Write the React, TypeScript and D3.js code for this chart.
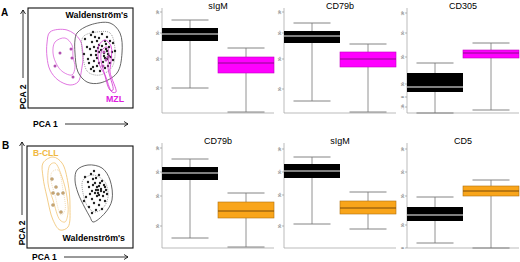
import React from "react";
import * as d3 from "d3";

// ---------- Box plot data: [lowWhisker, q1, median, q3, highWhisker] (axis units 0..105) ----------
const topMarkers = ["sIgM", "CD79b", "CD305"];
const topWM = [
  [25, 72, 79, 85, 93],
  [12, 70, 77, 82, 90],
  [0, 21, 26, 40, 50],
];
const topMZL = [
  [1, 40, 50, 56, 65],
  [1, 46, 54, 61, 69],
  [3, 55, 60, 63, 70],
];
const topTicks = [
  [101, 80, 54, 25],
  [101, 80, 54, 24],
  [100, 80, 56, 29, 16, 6],
];
const bottomMarkers = ["CD79b", "sIgM", "CD5"];
const botWM = [
  [10, 68, 75, 81, 89],
  [24, 70, 77, 84, 91],
  [5, 27, 33, 41, 51],
];
const botCLL = [
  [1, 30, 37, 46, 55],
  [19, 34, 40, 47, 56],
  [0, 52, 57, 62, 68],
];
const botTicks = [
  [100, 76, 52, 22],
  [99, 76, 53, 22],
  [99, 76, 52, 23, 0],
];
const tickLabels4 = ["10⁴", "10³", "10²", "10¹"];
const tickLabels5 = ["10⁴", "10³", "10²", "10¹", "0"];
const tickLabels6 = ["10⁴", "10³", "10²", "10¹", "0", "-10¹"];
const groups = ["WM", "other"];

// ---------- PCA panel A (units) ----------
const aGrayOuter: [number, number][] = [[49,75],[62,83],[82,85],[92,75],[94,55],[89,35],[72,25],[59,26],[50,36],[47,55],[47,68]];
const aGrayInner: [number, number][] = [[55,71],[69,76],[82,75],[87,58],[84,41],[72,33],[60,36],[55,51]];
const aPinkOuter: [number, number][] = [[22,76],[39,78],[52,68],[55,51],[54,41],[50,26],[42,23],[30,28],[22,38],[19,51],[19,65]];
const aPinkInner: [number, number][] = [[27,66],[37,70],[44,63],[45,51],[47,41],[44,33],[35,36],[29,43],[25,55]];
const aPinkTailOuter: [number, number][] = [[71,63],[77,68],[83,62],[83,46],[82,36],[88,16],[84,16],[77,33],[72,42],[70,53]];
const aPinkTailInner: [number, number][] = [[74,58],[79,61],[81,53],[80,40],[85,18],[82,18],[76,36],[73,48]];
const aPinkPoints: [number, number][] = [[32,55],[43,59],[44,50],[27,42],[45,31],[76,56],[78,48],[80,51],[75,42]];
const aBlackPoints: [number, number][] = [
  [57,69],[63,73],[65,76],[71,70],[74,74],[79,71],[85,65],[59,61],[64,66],[69,67],[71,63],[77,67],[81,61],[87,57],
  [56,54],[62,59],[66,61],[68,57],[74,62],[78,59],[84,56],[60,49],[63,53],[68,53],[71,56],[76,52],[80,54],[83,51],
  [61,45],[66,47],[69,50],[75,46],[79,49],[82,45],[85,48],[65,41],[69,42],[71,45],[77,40],[80,42],[66,37],[72,37],
  [63,39],[70,60],[73,58],[78,64],[82,67],[67,71],[76,55],[79,57],[81,52],[77,50],
];

// ---------- PCA panel B (units) ----------
const bGrayOuter: [number, number][] = [[50,78],[61,83],[75,80],[83,68],[85,48],[78,35],[66,26],[63,31],[58,40],[51,55],[48,68]];
const bGrayInner: [number, number][] = [[56,68],[66,73],[78,66],[81,51],[76,40],[68,36],[61,41],[56,55]];
const bOrangeOuter: [number, number][] = [[16,85],[26,91],[35,85],[41,65],[43,41],[41,21],[33,18],[26,28],[20,51],[16,71]];
const bOrangeInner: [number, number][] = [[23,83],[28,85],[35,71],[40,51],[41,35],[38,26],[33,28],[26,48],[21,65]];
const bOrangeCore: [number, number][] = [[25,76],[31,78],[36,58],[38,38],[34,33],[28,53],[24,68]];
const bOrangePoints: [number, number][] = [[25,69],[29,61],[26,55],[31,54],[36,55],[26,43],[34,36]];
const bBlackPoints: [number, number][] = [
  [58,71],[64,74],[67,77],[72,73],[61,66],[66,69],[69,70],[75,67],[78,61],[62,61],[66,63],[72,62],[74,59],[77,56],
  [80,54],[63,54],[69,58],[71,55],[76,52],[65,49],[70,52],[73,48],[78,47],[59,51],[67,45],[72,43],[62,41],[69,38],
  [65,35],[75,39],[70,61],[73,65],[68,65],[77,63],[72,53],[65,57],[57,47],[79,58],[74,57],[71,58],[68,55],
];

const FONT = "Arial, 'Liberation Sans', Helvetica, sans-serif";

type Pt = [number, number];

function BoxPanel(props: {
  x0: number; base: number; title: string; titleY: number;
  wm: number[]; other: number[]; ticks: number[]; tickLabels: string[];
  color: string; medianColor: string; strokeColor: string;
}) {
  const { x0, base, title, titleY, wm, other, ticks, tickLabels, color, medianColor, strokeColor } = props;
  const y = d3.scaleLinear().domain([0, 105]).range([base, base - 105]);
  const x = d3.scaleBand<string>().domain(groups).range([x0, x0 + 112]).padding(0);
  const bw = x.bandwidth();
  const items = [
    { g: "WM", v: wm, fill: "#000", med: "#fff", stroke: "none" },
    { g: "other", v: other, fill: color, med: medianColor, stroke: strokeColor },
  ];
  return (
    <g>
      <text x={x0 + 56} y={titleY} textAnchor="middle" fontFamily={FONT} fontSize={9} fill="#000">{title}</text>
      <line x1={x0} x2={x0} y1={y(105)} y2={base} stroke="#aaa" strokeWidth={0.8} />
      <line x1={x0} x2={x0 + 112} y1={base} y2={base} stroke="#aaa" strokeWidth={0.8} />
      {ticks.map((t, i) => (
        <g key={i}>
          <line x1={x0 - 2} x2={x0} y1={y(t)} y2={y(t)} stroke="#888" strokeWidth={0.6} />
          <text transform={`translate(${x0 - 3},${y(t)}) rotate(-90)`} textAnchor="middle" fontFamily={FONT} fontSize={3.2} fill="#555">{tickLabels[i]}</text>
        </g>
      ))}
      {items.map((it) => {
        const cx = (x(it.g) as number) + bw / 2;
        const [lo, q1, med, q3, hi] = it.v;
        return (
          <g key={it.g}>
            <line x1={cx} x2={cx} y1={y(hi)} y2={y(lo)} stroke="#777" strokeWidth={0.8} />
            <line x1={cx - 18.5} x2={cx + 18.5} y1={y(hi)} y2={y(hi)} stroke="#777" strokeWidth={0.9} />
            <line x1={cx - 18.5} x2={cx + 18.5} y1={y(lo)} y2={y(lo)} stroke="#777" strokeWidth={0.9} />
            <rect x={x(it.g) as number} y={y(q3)} width={bw} height={y(q1) - y(q3)} fill={it.fill} stroke={it.stroke} strokeWidth={0.6} />
            <line x1={x(it.g) as number} x2={(x(it.g) as number) + bw} y1={y(med)} y2={y(med)} stroke={it.med} strokeWidth={1} />
          </g>
        );
      })}
    </g>
  );
}

function PcaPanel(props: {
  left: number; top: number; right: number; bottom: number;
  children: (sx: d3.ScaleLinear<number, number>, sy: d3.ScaleLinear<number, number>) => React.ReactNode;
}) {
  const { left, top, right, bottom } = props;
  const sx = d3.scaleLinear().domain([0, right - left]).range([left, right]);
  const sy = d3.scaleLinear().domain([0, bottom - top]).range([bottom, top]);
  return (
    <g>
      <rect x={left} y={top} width={right - left} height={bottom - top} fill="#fff" stroke="#111" strokeWidth={1.1} />
      {props.children(sx, sy)}
    </g>
  );
}

function contour(sx: any, sy: any) {
  return d3.line<Pt>().x((d) => sx(d[0])).y((d) => sy(d[1])).curve(d3.curveCatmullRomClosed.alpha(0.5));
}

function Arrows(props: { yx: number; yTop: number; yBot: number; xy: number; xL: number; xR: number }) {
  const { yx, yTop, yBot, xy, xL, xR } = props;
  return (
    <g stroke="#000" strokeWidth={0.8} fill="none">
      <line x1={yx} x2={yx} y1={yBot} y2={yTop} />
      <path d={`M${yx - 2.5},${yTop + 4} L${yx},${yTop} L${yx + 2.5},${yTop + 4}`} />
      <line x1={xL} x2={xR} y1={xy} y2={xy} />
      <path d={`M${xR - 4},${xy - 2.5} L${xR},${xy} L${xR - 4},${xy + 2.5}`} />
    </g>
  );
}

export default function App() {
  const magenta = "#ff00ff";
  const orange = "#f9a51a";
  return (
    <div style={{ position: "absolute", left: 0, top: 0 }}>
      <svg width={520} height={262} style={{ display: "block", background: "#fff" }}>
        {/* Panel labels */}
        <text x={1} y={16} fontFamily={FONT} fontWeight="bold" fontSize={10}>A</text>
        <text x={2} y={149} fontFamily={FONT} fontWeight="bold" fontSize={10}>B</text>

        {/* PCA A */}
        <PcaPanel left={28} top={8} right={133} bottom={108}>
          {(sx, sy) => {
            const ln = contour(sx, sy);
            return (
              <g>
                <path d={ln(aPinkOuter) || ""} fill="none" stroke="#dd66dd" strokeWidth={0.9} />
                <path d={ln(aPinkInner) || ""} fill="none" stroke="#dd66dd" strokeWidth={0.8} />
                <path d={ln(aGrayOuter) || ""} fill="none" stroke="#555" strokeWidth={0.9} />
                <path d={ln(aGrayInner) || ""} fill="none" stroke="#777" strokeWidth={0.7} strokeDasharray="1,1" />
                {aBlackPoints.map((p, i) => (
                  <circle key={i} cx={sx(p[0])} cy={sy(p[1])} r={1.2} fill="#222" />
                ))}
                <path d={ln(aPinkTailOuter) || ""} fill="none" stroke="#dd44dd" strokeWidth={0.9} />
                <path d={ln(aPinkTailInner) || ""} fill="none" stroke="#cc33cc" strokeWidth={0.8} />
                {aPinkPoints.map((p, i) => (
                  <circle key={i} cx={sx(p[0])} cy={sy(p[1])} r={1.5} fill="#b050b0" />
                ))}
              </g>
            );
          }}
        </PcaPanel>
        <text x={128} y={18} textAnchor="end" fontFamily={FONT} fontWeight="bold" fontSize={8.8}>Waldenström's</text>
        <text x={106} y={102} fontFamily={FONT} fontWeight="bold" fontSize={8.8} fill="#e020e0">MZL</text>
        <Arrows yx={23} yTop={10} yBot={78} xy={124} xL={65} xR={128} />
        <text transform="translate(26,97) rotate(-90)" textAnchor="middle" fontFamily={FONT} fontWeight="bold" fontSize={8.5}>PCA 2</text>
        <text x={33} y={127} fontFamily={FONT} fontWeight="bold" fontSize={8.5}>PCA 1</text>

        {/* PCA B */}
        <PcaPanel left={27} top={146} right={133} bottom={248}>
          {(sx, sy) => {
            const ln = contour(sx, sy);
            return (
              <g>
                <path d={ln(bOrangeOuter) || ""} fill="none" stroke="#f2c77a" strokeWidth={0.9} />
                <path d={ln(bOrangeInner) || ""} fill="none" stroke="#f2c77a" strokeWidth={0.8} />
                <path d={ln(bOrangeCore) || ""} fill="none" stroke="#e8c48a" strokeWidth={0.6} strokeDasharray="1,1" />
                {bOrangePoints.map((p, i) => (
                  <circle key={i} cx={sx(p[0])} cy={sy(p[1])} r={1.6} fill="#c9a470" stroke="#9a8a70" strokeWidth={0.3} />
                ))}
                <path d={ln(bGrayOuter) || ""} fill="none" stroke="#555" strokeWidth={0.9} />
                <path d={ln(bGrayInner) || ""} fill="none" stroke="#777" strokeWidth={0.7} strokeDasharray="1,1" />
                {bBlackPoints.map((p, i) => (
                  <circle key={i} cx={sx(p[0])} cy={sy(p[1])} r={1.2} fill="#222" />
                ))}
              </g>
            );
          }}
        </PcaPanel>
        <text x={33} y={156} fontFamily={FONT} fontWeight="bold" fontSize={8.5} fill="#f0b840">B-CLL</text>
        <text x={125} y={241} textAnchor="end" fontFamily={FONT} fontWeight="bold" fontSize={8.8}>Waldenström's</text>
        <Arrows yx={22} yTop={142} yBot={215} xy={257} xL={64} xR={128} />
        <text transform="translate(25,233) rotate(-90)" textAnchor="middle" fontFamily={FONT} fontWeight="bold" fontSize={8.5}>PCA 2</text>
        <text x={32} y={260} fontFamily={FONT} fontWeight="bold" fontSize={8.5}>PCA 1</text>

        {/* Box plots top row */}
        {topMarkers.map((m, i) => (
          <BoxPanel key={"t" + i} x0={[162, 284, 407][i]} base={113} title={m} titleY={9}
            wm={topWM[i]} other={topMZL[i]} ticks={topTicks[i]}
            tickLabels={topTicks[i].length === 6 ? tickLabels6 : tickLabels4}
            color={magenta} medianColor="#8a0a8a" strokeColor="#c000c0" />
        ))}
        {/* Box plots bottom row */}
        {bottomMarkers.map((m, i) => (
          <BoxPanel key={"b" + i} x0={[162, 284, 407][i]} base={248} title={m} titleY={144}
            wm={botWM[i]} other={botCLL[i]} ticks={botTicks[i]}
            tickLabels={botTicks[i].length === 5 ? tickLabels5 : tickLabels4}
            color={orange} medianColor="#7a4a08" strokeColor="#b07010" />
        ))}
      </svg>
    </div>
  );
}
